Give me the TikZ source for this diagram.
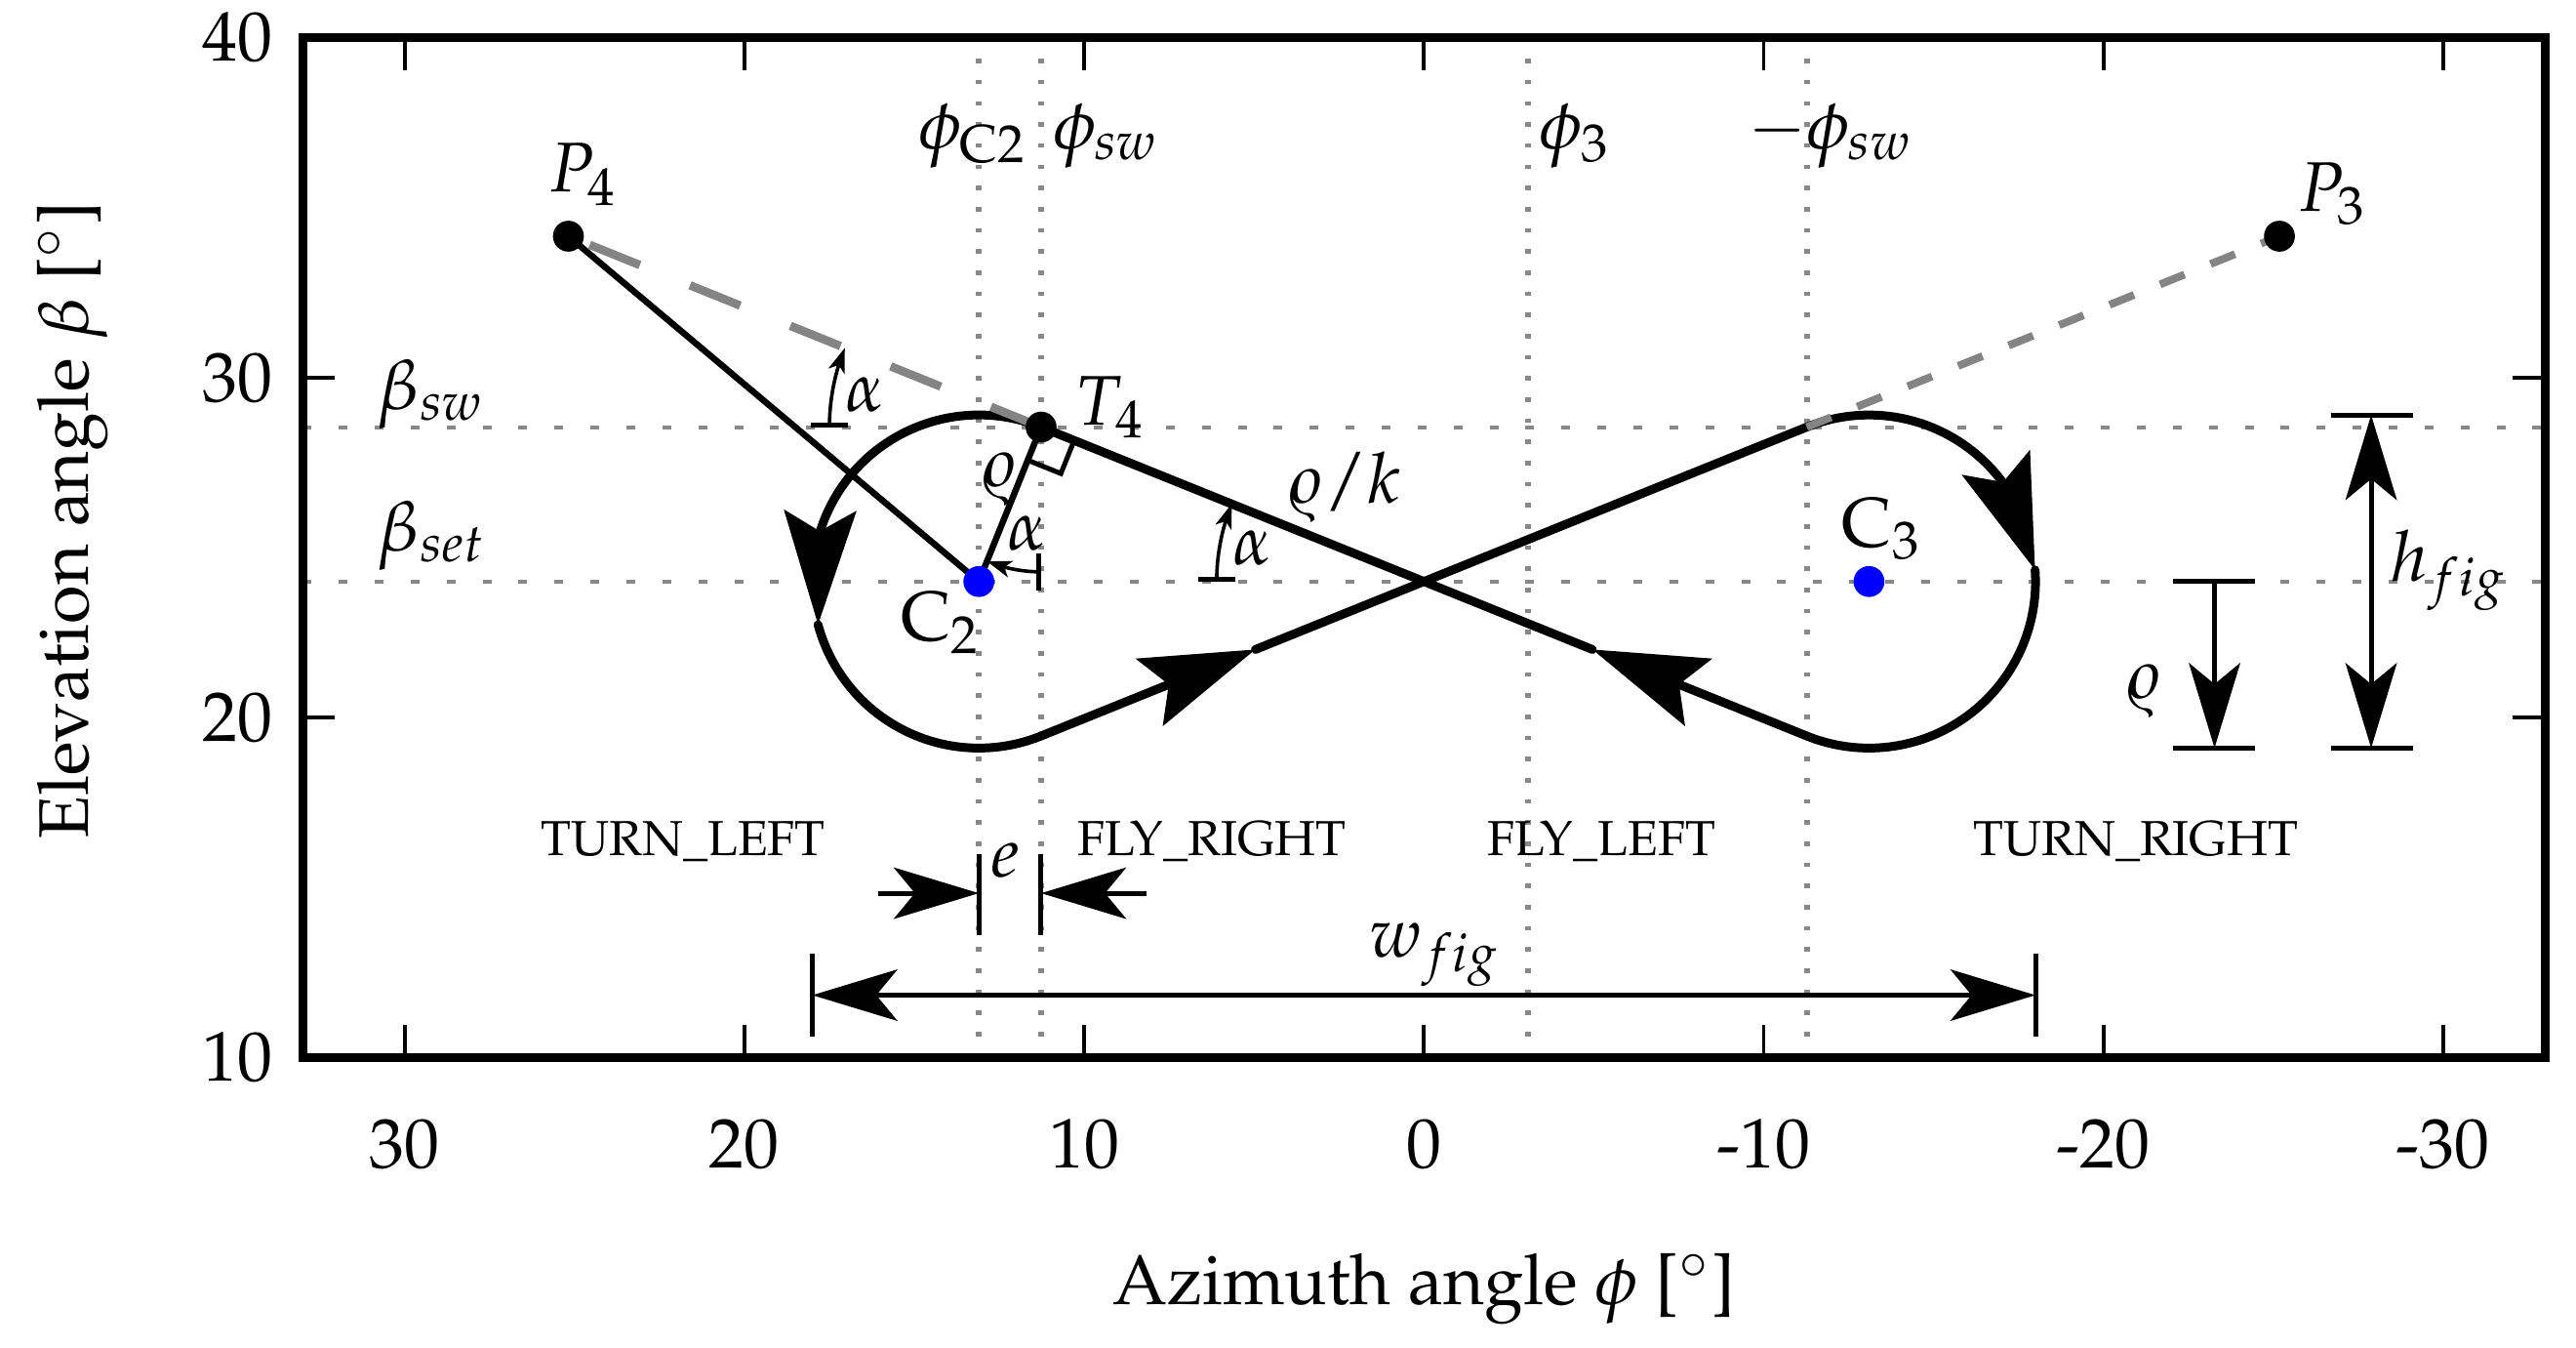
\documentclass[tikz,border=0pt]{standalone}
\usepackage[T1]{fontenc}
\usepackage{mathpazo}
\usetikzlibrary{arrows.meta,bending,calc}
\definecolor{dotgray}{HTML}{888888}
\definecolor{dashgray}{HTML}{848484}
\definecolor{ptblue}{RGB}{0,0,255}
\tikzset{
  frameline/.style={line width=1.25pt},
  tickline/.style={line width=0.55pt},
  vgrid/.style={dotgray, line width=0.85pt, dash pattern=on 0.63pt off 2.38pt},
  hgrid/.style={dotgray, line width=0.56pt, dash pattern=on 1.25pt off 3.87pt},
  longdash/.style={dashgray, line width=1.2pt, dash pattern=on 7.7pt off 7.7pt},
  shortdash/.style={dashgray, line width=1.1pt, dash pattern=on 3.75pt off 4pt},
  eight/.style={line width=1.25pt, line cap=round},
  bigarc/.style={-{Stealth[length=16.2pt,width=10.2pt,inset=2.9pt,flex]}},
  bigline/.style={-{Stealth[length=16.2pt,width=10.2pt,inset=2.9pt]}},
  thinline/.style={line width=0.9pt},
  dimline/.style={line width=0.7pt},
  dimbar/.style={line width=0.7pt},
  dimtip/.tip={Stealth[length=12.1pt,width=7.3pt,inset=3pt]},
  smalltip/.tip={Stealth[length=3.5pt,width=2.4pt,inset=0.9pt]},
  anglemark/.style={line width=0.5pt, {Bar[width=5.3pt,line width=0.7pt]}-{smalltip}},
  lbl/.style={inner sep=0pt, anchor=base west},
  statelbl/.style={inner sep=0pt, anchor=base, font=\fontsize{7}{8}\selectfont},
  ticklbl/.style={inner sep=0pt},
  dotmark/.style={radius=0.455}
}
\begin{document}
\begin{tikzpicture}[x=0.17cm,y=0.17cm]
\useasboundingbox (-41.91,1.47) rectangle (33.91,41.11);

% key points
\coordinate (C2) at (-13.1,24);
\coordinate (C3) at (13.1,24);
\coordinate (O) at (0,24);
\coordinate (T4) at (-11.267,28.544);
\coordinate (B2) at (-11.267,19.456);
\coordinate (A3) at (11.267,28.544);
\coordinate (B3) at (11.267,19.456);
\coordinate (M2) at (-4.96,22.0);
\coordinate (M3) at (4.96,22.0);
\coordinate (K2) at (-17.833,22.732);
\coordinate (K3) at (17.988,24.342);
\coordinate (P4) at (-25.18,34.16);
\coordinate (P3) at (25.18,34.16);

% grid lines
\foreach \u [count=\i] in {-13.1,-11.267,3.06,11.267} {
  \coordinate (vb\i) at (\u,10);
  \coordinate (vt\i) at (\u,40);
  \draw[vgrid] (vb\i) -- (vt\i);
}
\foreach \b [count=\i] in {28.544,24} {
  \coordinate (hl\i) at (-33,\b);
  \coordinate (hr\i) at (33,\b);
  \draw[hgrid] (hl\i) -- (hr\i);
}

% frame and ticks
\draw[frameline] (-33,10) rectangle (33,40);
\foreach \u in {-30,-20,...,30} {
  \draw[tickline] (\u,10) -- (\u,10.95);
  \draw[tickline] (\u,40) -- (\u,39.05);
}
\foreach \b in {20,30} {
  \draw[tickline] (-33,\b) -- (-32.05,\b);
  \draw[tickline] (33,\b) -- (32.05,\b);
}
\foreach \b [count=\i] in {10,20,30,40}
  \node[ticklbl, anchor=east] (yt\i) at (-33.85,\b) {\b};
\foreach \u/\t [count=\i] in {-30/30,-20/20,-10/10,0/0,10/-10,20/-20,30/-30}
  \node[ticklbl, anchor=base] (xt\i) at (\u,6.74) {\t};
\node[ticklbl, anchor=base] (xlab) at (0,2.72) {Azimuth angle $\phi$ [$^\circ$]};
\node[ticklbl, anchor=base, rotate=90] (ylab) at (-39.3,25.8) {Elevation angle $\beta$ [$^\circ$]};

% figure eight
\draw[eight, bigarc] (T4) arc[start angle=68.04, end angle=195, radius=4.9];
\draw[eight] (K2) arc[start angle=195, end angle=291.96, radius=4.9];
\draw[eight, bigline] (B2) -- (M2);
\draw[eight] (M2) -- (A3);
\draw[eight, bigarc] (A3) arc[start angle=111.96, end angle=4, radius=4.9];
\draw[eight] (K3) arc[start angle=4, end angle=-111.96, radius=4.9];
\draw[eight, bigline] (B3) -- (M3);
\draw[eight] (M3) -- (T4);

% tether lines
\draw[thinline] (P4) -- (C2);
\draw[thinline] (T4) -- (C2);
\draw[longdash] (T4) -- (P4);
\draw[shortdash] (A3) -- (P3);

% right angle at T4
\draw[line width=0.7pt] ($(T4)+(248.04:1.05)$) -- ($(T4)+(248.04:1.05)+(-21.96:1.05)$) -- ($(T4)+(-21.96:1.05)$);

% angle markers
\draw[anglemark] ($(T4)+(180:6.23)$) arc[start angle=180, end angle=158.04, radius=6.23];
\draw[anglemark] ($(T4)+(270:4.26)$) arc[start angle=270, end angle=248.04, radius=4.26];
\draw[anglemark] ($(O)+(180:6.1)$) arc[start angle=180, end angle=158.04, radius=6.1];

% points
\fill (P4) circle[dotmark];
\fill (P3) circle[dotmark];
\fill (T4) circle[dotmark];
\fill[ptblue] (C2) circle[dotmark];
\fill[ptblue] (C3) circle[dotmark];

% dimensions
\draw[dimbar] (-13.1,13.6) -- (-13.1,15.97);
\draw[dimbar] (-11.267,13.6) -- (-11.267,15.97);
\draw[dimline, -{dimtip}] (-16.07,14.83) -- (-13.1,14.83);
\draw[dimline, -{dimtip}] (-8.16,14.83) -- (-11.267,14.83);
\draw[dimbar] (-18,10.61) -- (-18,13.06);
\draw[dimbar] (18,10.61) -- (18,13.06);
\draw[dimline, {dimtip}-{dimtip}] (-18,11.83) -- (18,11.83);
\draw[dimbar] (26.7,28.9) -- (29.1,28.9);
\draw[dimbar] (26.7,19.1) -- (29.1,19.1);
\draw[dimline, {dimtip}-{dimtip}] (27.88,19.1) -- (27.88,28.9);
\draw[dimbar] (22.05,24) -- (24.45,24);
\draw[dimbar] (22.05,19.1) -- (24.45,19.1);
\draw[dimline, -{dimtip}] (23.27,24) -- (23.27,19.1);

% labels
\node[lbl] (lP4) at (-25.8,35.46) {$P_4$};
\node[lbl] (lP3) at (25.7,34.88) {$P_3$};
\node[lbl] (lT4) at (-10.3,28.61) {$T_4$};
\node[lbl] (lC2) at (-15.43,22.25) {$\mathrm{C}_2$};
\node[lbl] (lC3) at (12.27,25.02) {$\mathrm{C}_3$};
\node[lbl] (lphiC) at (-14.92,36.73) {$\phi_{\mathrm{C}2}$};
\node[lbl] (lphisw) at (-10.96,36.73) {$\phi_{sw}$};
\node[lbl] (lphi3) at (3.37,36.73) {$\phi_3$};
\node[lbl] (lmphisw) at (9.5,36.73) {$-\phi_{sw}$};
\node[lbl] (lbsw) at (-30.85,29.06) {$\beta_{sw}$};
\node[lbl] (lbset) at (-30.85,24.9) {$\beta_{set}$};
\node[lbl] (lrho) at (-13.1,26.8) {$\varrho$};
\node[lbl] (lrhok) at (-4.08,26.31) {$\varrho/k$};
\node[lbl] (la1) at (-17.07,29.0) {$\alpha$};
\node[lbl] (la2) at (-12.3,24.93) {$\alpha$};
\node[lbl] (la3) at (-5.66,24.5) {$\alpha$};
\node[lbl] (le) at (-12.78,15.31) {$e$};
\node[lbl] (lw) at (-1.63,12.96) {$w_{fig}$};
\node[lbl] (lh) at (28.43,24.02) {$h_{fig}$};
\node[lbl] (lrho2) at (20.6,20.57) {$\varrho$};

\node[statelbl] (sTL) at (-21.8,15.93) {TURN\_LEFT};
\node[statelbl] (sFR) at (-6.24,15.93) {FLY\_RIGHT};
\node[statelbl] (sFL) at (5.23,15.93) {FLY\_LEFT};
\node[statelbl] (sTR) at (20.95,15.93) {TURN\_RIGHT};
\end{tikzpicture}
\end{document}
